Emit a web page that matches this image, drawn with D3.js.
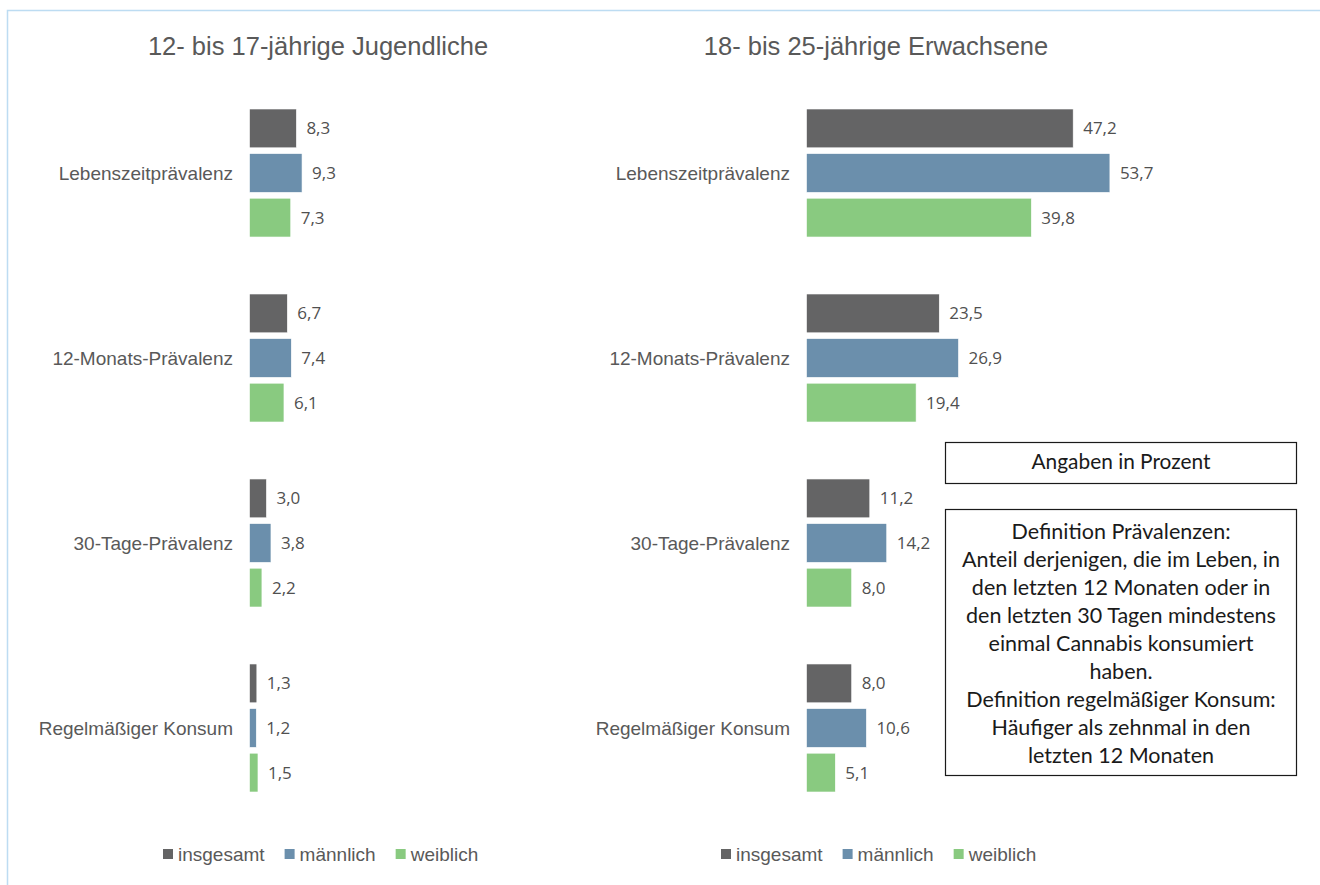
<!DOCTYPE html>
<html>
<head>
<meta charset="utf-8">
<script src="https://cdn.jsdelivr.net/npm/d3@7"></script>
<style>
  body { margin: 0; background: #fff; }
  svg { display: block; }
</style>
</head>
<body>
<div id="result"></div>
<script>
// Data
var categories = ["Lebenszeitprävalenz", "12-Monats-Prävalenz", "30-Tage-Prävalenz", "Regelmäßiger Konsum"];
var seriesNames = ["insgesamt", "männlich", "weiblich"];
var seriesColors = ["#646465", "#6b8fac", "#89ca80"];

// 12- bis 17-jährige
var jugendInsgesamt = [8.3, 6.7, 3.0, 1.3];
var jugendMaennlich = [9.3, 7.4, 3.8, 1.2];
var jugendWeiblich = [7.3, 6.1, 2.2, 1.5];

// 18- bis 25-jährige
var erwInsgesamt = [47.2, 23.5, 11.2, 8.0];
var erwMaennlich = [53.7, 26.9, 14.2, 10.6];
var erwWeiblich = [39.8, 19.4, 8.0, 5.1];

var panelTitles = ["12- bis 17-jährige Jugendliche", "18- bis 25-jährige Erwachsene"];
var noteTop = "Angaben in Prozent";
var noteLines = [
  "Definition Prävalenzen:",
  "Anteil derjenigen, die im Leben, in",
  "den letzten 12 Monaten oder in",
  "den letzten 30 Tagen mindestens",
  "einmal Cannabis konsumiert",
  "haben.",
  "Definition regelmäßiger Konsum:",
  "Häufiger als zehnmal in den",
  "letzten 12 Monaten"
];

var width = 1320;
var height = 885;

var svg = d3.select("#result")
  .append("svg")
  .attr("width", width)
  .attr("height", height);

svg.append("rect")
  .attr("width", width)
  .attr("height", height)
  .attr("fill", "#fff");

// thin frame (only top / left visible)
svg.append("rect")
  .attr("x", 7.5)
  .attr("y", 10.5)
  .attr("width", width + 20)
  .attr("height", height + 20)
  .attr("fill", "none")
  .attr("stroke", "#bddcf2")
  .attr("stroke-width", 1.5);

var fmt = d3.formatLocale({ decimal: ",", thousands: ".", grouping: [3], currency: ["", "€"] }).format(".1f");

// scales shared by both panels
var x = d3.scaleLinear()
  .domain([0, 60])
  .range([0, 339]);

var y0 = d3.scaleBand()
  .domain(categories)
  .range([109, 792])
  .paddingInner(0.308)
  .paddingOuter(0);

var y1 = d3.scaleBand()
  .domain(seriesNames)
  .range([0, y0.bandwidth()])
  .paddingInner(0.13)
  .paddingOuter(0);

var panels = [
  { title: panelTitles[0], titleX: 318, x0: 249.5, legendX: 163,
    values: [jugendInsgesamt, jugendMaennlich, jugendWeiblich] },
  { title: panelTitles[1], titleX: 876, x0: 806.5, legendX: 721,
    values: [erwInsgesamt, erwMaennlich, erwWeiblich] }
];

panels.forEach(function(p) {
  var g = svg.append("g");

  g.append("text")
    .attr("x", p.titleX)
    .attr("y", 55)
    .attr("text-anchor", "middle")
    .style("font-family", "'Liberation Sans', Arial, sans-serif")
    .style("font-size", "25.5px")
    .style("fill", "#595959")
    .text(p.title);

  // category labels
  g.selectAll("text.cat")
    .data(categories)
    .enter()
    .append("text")
      .attr("class", "cat")
      .attr("x", p.x0 - 16.5)
      .attr("y", function(d) { return y0(d) + y0.bandwidth() / 2; })
      .attr("dy", ".35em")
      .attr("text-anchor", "end")
      .style("font-family", "'Liberation Sans', Arial, sans-serif")
      .style("font-size", "19px")
      .style("fill", "#595959")
      .text(function(d) { return d; });

  var rows = [];
  categories.forEach(function(c, ci) {
    seriesNames.forEach(function(s, si) {
      rows.push({ cat: c, series: s, si: si, value: p.values[si][ci] });
    });
  });

  g.selectAll("rect.bar")
    .data(rows)
    .enter()
    .append("rect")
      .attr("class", "bar")
      .attr("x", p.x0)
      .attr("y", function(d) { return y0(d.cat) + y1(d.series); })
      .attr("width", function(d) { return x(d.value); })
      .attr("height", y1.bandwidth())
      .style("fill", function(d) { return seriesColors[d.si]; })
      .style("stroke", "#fff")
      .style("stroke-width", 0.6);

  g.selectAll("text.val")
    .data(rows)
    .enter()
    .append("text")
      .attr("class", "val")
      .attr("x", function(d) { return p.x0 + x(d.value) + 10; })
      .attr("y", function(d) { return y0(d.cat) + y1(d.series) + y1.bandwidth() / 2; })
      .attr("dy", ".35em")
      .style("font-family", "'Open Sans', sans-serif")
      .style("font-size", "17px")
      .style("fill", "#505050")
      .text(function(d) { return fmt(d.value); });

  // legend
  var lx = p.legendX;
  seriesNames.forEach(function(s, si) {
    g.append("rect")
      .attr("x", lx)
      .attr("y", 849)
      .attr("width", 10)
      .attr("height", 10)
      .style("fill", seriesColors[si]);
    var t = g.append("text")
      .attr("x", lx + 15)
      .attr("y", 861)
      .style("font-family", "'Liberation Sans', Arial, sans-serif")
      .style("font-size", "19px")
      .style("fill", "#595959")
      .text(s);
    lx += 15 + t.node().getComputedTextLength() + 20;
  });
});

// note boxes
var boxFont = "Lato, 'Open Sans', sans-serif";

svg.append("rect")
  .attr("x", 945.5)
  .attr("y", 442.5)
  .attr("width", 351)
  .attr("height", 41)
  .attr("fill", "#fff")
  .attr("stroke", "#1a1a1a")
  .attr("stroke-width", 1.2);

var topText = svg.append("text")
  .attr("x", 1121)
  .attr("y", 469)
  .attr("text-anchor", "middle")
  .style("font-family", boxFont)
  .style("font-size", "18px")
  .style("fill", "#1a1a1a")
  .text(noteTop);
// fit to the width in the picture
var tw = topText.node().getComputedTextLength();
topText.style("font-size", (18 * 179 / tw) + "px");

svg.append("rect")
  .attr("x", 945.5)
  .attr("y", 509.5)
  .attr("width", 351)
  .attr("height", 266)
  .attr("fill", "#fff")
  .attr("stroke", "#1a1a1a")
  .attr("stroke-width", 1.2);

var note = svg.append("g");
var noteText = note.selectAll("text")
  .data(noteLines)
  .enter()
  .append("text")
    .attr("x", 1121)
    .attr("y", function(d, i) { return 539 + i * 28; })
    .attr("text-anchor", "middle")
    .style("font-family", boxFont)
    .style("font-size", "18px")
    .style("fill", "#1a1a1a")
    .text(function(d) { return d; });

var maxW = d3.max(noteText.nodes(), function(n) { return n.getComputedTextLength(); });
noteText.style("font-size", (18 * 318 / maxW) + "px");
</script>
</body>
</html>
